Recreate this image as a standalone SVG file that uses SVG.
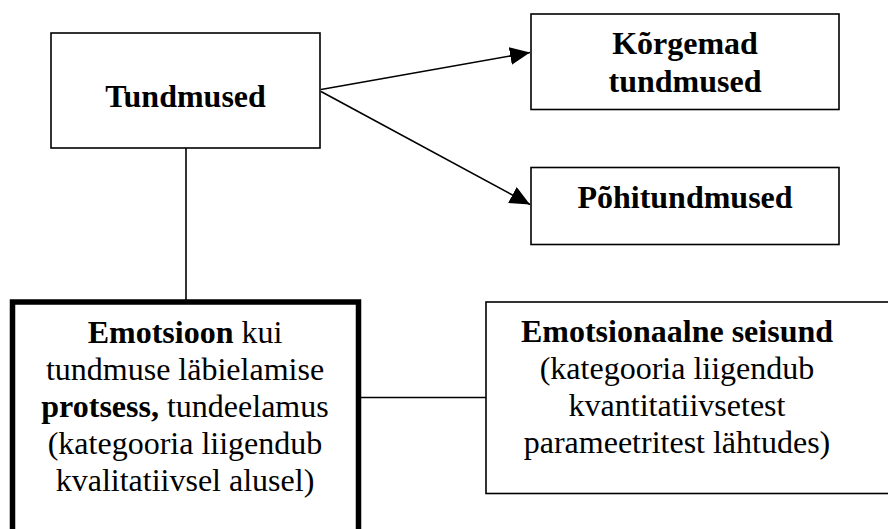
<svg xmlns="http://www.w3.org/2000/svg" width="888" height="529" viewBox="0 0 888 529">
  <style>
    .box { fill: #ffffff; stroke: #000000; stroke-width: 1.6; }
    .box-strong { fill: #ffffff; stroke: #000000; stroke-width: 5.5; }
    .link { fill: none; stroke: #000000; stroke-width: 1.6; }
    .lbl { font-family: "Liberation Serif", "Times New Roman", serif; font-size: 32px; fill: #000000; text-anchor: middle; }
    .b { font-weight: bold; }
  </style>
  <defs>
    <marker id="arrow" markerUnits="userSpaceOnUse" markerWidth="22" markerHeight="20" refX="20" refY="9" orient="auto">
      <path d="M0,0 L20,9 L0,18 Z" fill="#000000"/>
    </marker>
  </defs>

  <!-- connectors -->
  <g id="connectors">
    <line class="link" x1="186" y1="148" x2="186" y2="300"/>
    <line class="link" x1="361" y1="397.5" x2="486" y2="397.5"/>
    <line class="link" x1="321" y1="89.5" x2="530" y2="52.5" marker-end="url(#arrow)"/>
    <line class="link" x1="321" y1="91.5" x2="530" y2="204.5" marker-end="url(#arrow)"/>
  </g>

  <g id="tundmused">
    <rect class="box" x="51" y="33" width="269" height="115"/>
    <text class="lbl b" x="185.5" y="107">Tundmused</text>
  </g>

  <g id="korgemad-tundmused">
    <rect class="box" x="531" y="14" width="308" height="95.5"/>
    <text class="lbl b" x="685" y="54">Kõrgemad</text>
    <text class="lbl b" x="685" y="92">tundmused</text>
  </g>

  <g id="pohitundmused">
    <rect class="box" x="531" y="167.5" width="308" height="77"/>
    <text class="lbl b" x="685" y="208">Põhitundmused</text>
  </g>

  <g id="emotsioon">
    <rect class="box-strong" x="12.5" y="302" width="346" height="260"/>
    <text class="lbl" x="185" y="343"><tspan class="b">Emotsioon</tspan> kui</text>
    <text class="lbl" x="185" y="380">tundmuse läbielamise</text>
    <text class="lbl" x="185" y="417"><tspan class="b">protsess,</tspan> tundeelamus</text>
    <text class="lbl" x="185" y="454">(kategooria liigendub</text>
    <text class="lbl" x="185" y="491">kvalitatiivsel alusel)</text>
  </g>

  <g id="emotsionaalne-seisund">
    <rect class="box" x="486" y="302" width="420" height="191.5"/>
    <text class="lbl b" x="677" y="342">Emotsionaalne seisund</text>
    <text class="lbl" x="677" y="379">(kategooria liigendub</text>
    <text class="lbl" x="677" y="416">kvantitatiivsetest</text>
    <text class="lbl" x="677" y="453">parameetritest lähtudes)</text>
  </g>
</svg>
